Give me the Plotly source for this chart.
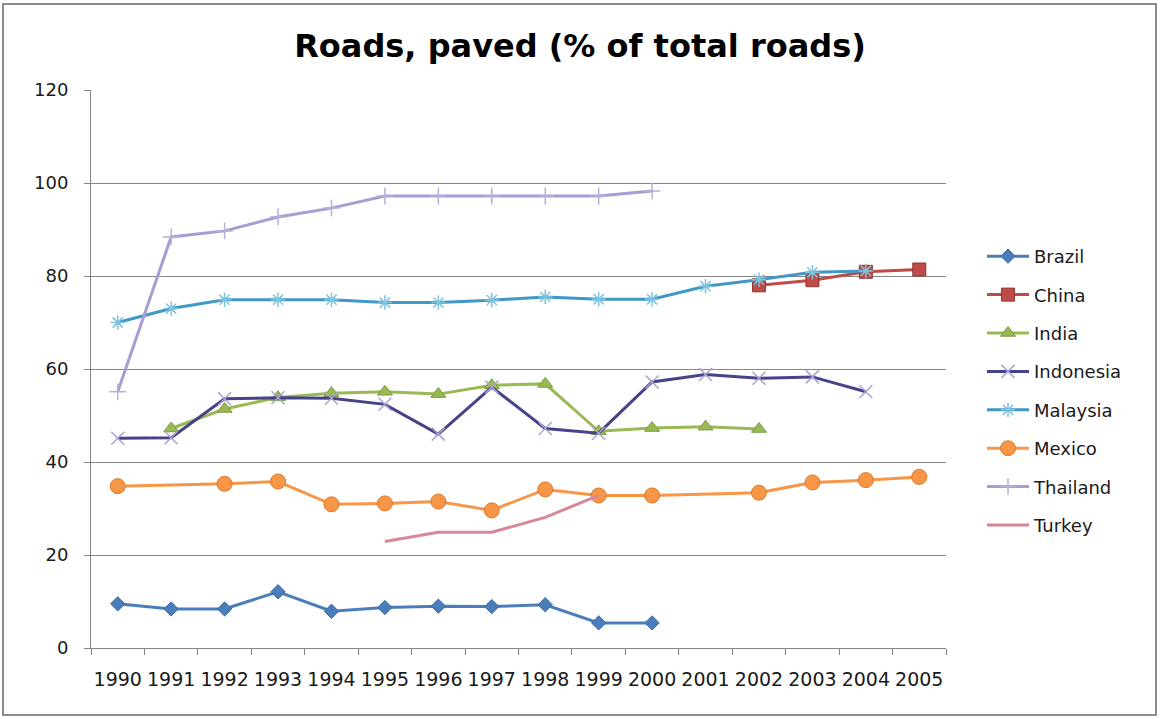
import plotly.graph_objects as go

years = [str(y) for y in range(1990, 2006)]

brazil    = [9.5, 8.4, 8.4, 12.1, 7.9, 8.7, 9.0, 8.9, 9.3, 5.4, 5.4, None, None, None, None, None]
china     = [None]*12 + [78.0, 79.1, 80.9, 81.4]
india     = [None, 47.2, 51.4, 53.9, 54.8, 55.1, 54.6, 56.5, 56.8, 46.6, 47.3, 47.6, 47.1, None, None, None]
indonesia = [45.1, 45.2, 53.6, 53.8, 53.7, 52.4, 46.0, 56.1, 47.2, 46.2, 57.2, 58.8, 58.0, 58.3, 55.1, None]
malaysia  = [70.0, 73.0, 74.9, 74.9, 74.9, 74.3, 74.3, 74.8, 75.5, 75.0, 75.0, 77.8, 79.2, 80.8, 81.1, None]
mexico    = [34.8, None, 35.3, 35.8, 30.9, 31.1, 31.5, 29.6, 34.1, 32.8, 32.8, None, 33.4, 35.6, 36.1, 36.8]
thailand  = [55.1, 88.4, 89.7, 92.7, 94.6, 97.2, 97.2, 97.2, 97.2, 97.2, 98.3, None, None, None, None, None]
turkey    = [None]*5 + [22.9, 24.9, 24.9, 28.1, 32.8] + [None]*6

series = [
    ("Brazil", brazil, "#4A7EBB", dict(symbol="diamond", size=11, color="#4A7EBB", line=dict(color="#3A6BA5", width=1))),
    ("China", china, "#BE4B48", dict(symbol="square", size=13, color="#BE4B48", line=dict(color="#8C3836", width=1))),
    ("India", india, "#98B954", dict(symbol="triangle-up", size=13, color="#98B954", line=dict(color="#7D9B42", width=1))),
    ("Indonesia", indonesia, "#46438A", dict(symbol="x-thin-open", size=13, color="#A9A3D0", line=dict(color="#A9A3D0", width=1.5))),
    ("Malaysia", malaysia, "#3F98C6", dict(symbol="asterisk-open", size=12, color="#7FC4DE", line=dict(color="#7FC4DE", width=1.5))),
    ("Mexico", mexico, "#F79646", dict(symbol="circle", size=15, color="#F79646", line=dict(color="#E0772A", width=1))),
    ("Thailand", thailand, "#A99BD5", dict(symbol="cross-thin-open", size=12, color="#B8B0D8", line=dict(color="#B8B0D8", width=1.5))),
    ("Turkey", turkey, "#D8879A", None),
]

fig = go.Figure()
for name, vals, col, mk in series:
    if mk is None:
        fig.add_trace(go.Scatter(x=years, y=vals, name=name, mode="lines",
                                 line=dict(color=col, width=3), connectgaps=True,
                                 legendgroup=name))
    else:
        fig.add_trace(go.Scatter(x=years, y=vals, name=name, mode="lines+markers",
                                 line=dict(color=col, width=3), marker=mk,
                                 connectgaps=True, legendgroup=name))

L, T, R, B = 91, 90, 946, 648
W, H = 1160, 719
pw, ph = R - L, B - T

def px(x):
    return (x - L) / pw

def py(y):
    return (B - y) / ph

fig.update_layout(
    width=W, height=H,
    margin=dict(l=L, r=W - R, t=T, b=H - B, pad=0),
    paper_bgcolor="white", plot_bgcolor="white",
    font=dict(family="DejaVu Sans", size=18, color="#1a1a1a"),
    title=dict(text="<b>Roads, paved (% of total roads)</b>", x=0.5, xanchor="center",
               y=1 - 46 / H, yanchor="middle",
               font=dict(family="DejaVu Sans", size=32, color="#000000")),
    xaxis=dict(type="category", range=[-0.5, 15.5], tickson="boundaries",
               ticks="outside", ticklen=6, tickcolor="#868686", tickangle=0,
               showline=True, linecolor="#868686", linewidth=1,
               showgrid=False, zeroline=False, ticklabelstandoff=14,
               tickfont=dict(size=19)),
    yaxis=dict(range=[0, 120], dtick=20, tick0=0, ticks="outside", ticklen=6,
               tickcolor="#868686", showline=True, linecolor="#868686", linewidth=1,
               showgrid=True, gridcolor="#868686", gridwidth=1, zeroline=False,
               ticklabelstandoff=12, tickfont=dict(size=18)),
    legend=dict(x=px(982), xanchor="left", y=py(238), yanchor="top",
                font=dict(size=18), tracegroupgap=12, bgcolor="rgba(0,0,0,0)",
                itemwidth=42),
    showlegend=True,
)

fig.add_shape(type="rect", xref="paper", yref="paper",
              x0=px(3), x1=px(1156), y0=py(715), y1=py(4),
              line=dict(color="#8c8c8c", width=2), fillcolor="rgba(0,0,0,0)", layer="below")

fig.write_html("out.html", config={"displayModeBar": False},
               post_script="document.body.style.margin='0px';document.body.style.overflow='hidden';")
